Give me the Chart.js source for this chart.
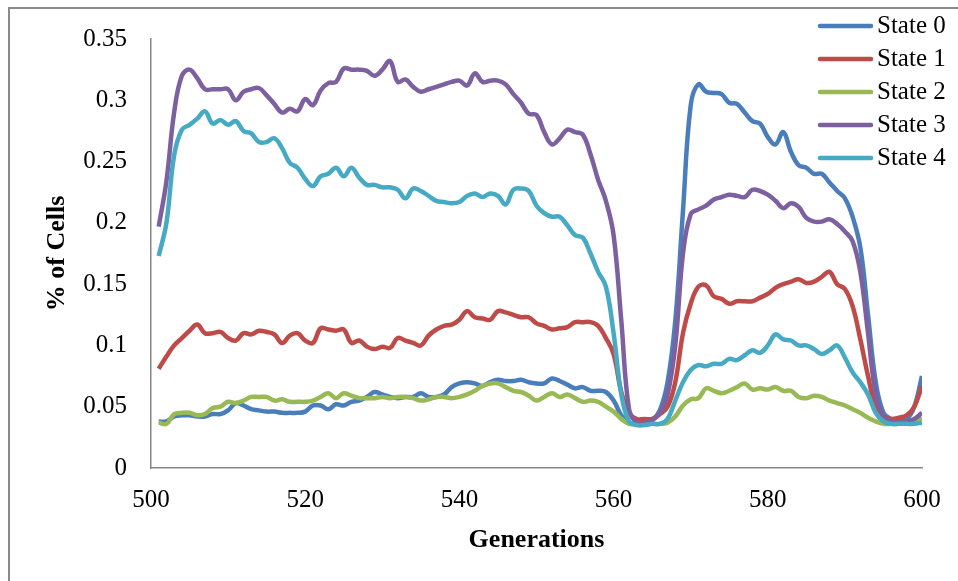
<!DOCTYPE html>
<html>
<head>
<meta charset="utf-8">
<title>% of Cells by Generation</title>
<script src="https://cdn.jsdelivr.net/npm/chart.js@4.4.1/dist/chart.umd.min.js"></script>
<style>
  html, body { margin: 0; padding: 0; background: #fff; }
  #chart { display: block; }
</style>
</head>
<body>
<canvas id="chart" width="958" height="581"></canvas>
<script>
const generations = [
  501, 502, 503, 504, 505, 506, 507, 508, 509, 510,
  511, 512, 513, 514, 515, 516, 517, 518, 519, 520,
  521, 522, 523, 524, 525, 526, 527, 528, 529, 530,
  531, 532, 533, 534, 535, 536, 537, 538, 539, 540,
  541, 542, 543, 544, 545, 546, 547, 548, 549, 550,
  551, 552, 553, 554, 555, 556, 557, 558, 559, 560,
  561, 562, 563, 564, 565, 566, 567, 568, 569, 570,
  571, 572, 573, 574, 575, 576, 577, 578, 579, 580,
  581, 582, 583, 584, 585, 586, 587, 588, 589, 590,
  591, 592, 593, 594, 595, 596, 597, 598, 599, 600,
];

const state0 = [
  0.038, 0.038, 0.042, 0.043, 0.043, 0.042, 0.042, 0.044, 0.044, 0.047,
  0.053, 0.051, 0.048, 0.047, 0.046, 0.046, 0.045, 0.045, 0.045, 0.046,
  0.051, 0.051, 0.048, 0.052, 0.051, 0.054, 0.055, 0.058, 0.062, 0.060,
  0.058, 0.057, 0.058, 0.058, 0.061, 0.058, 0.058, 0.060, 0.066, 0.069,
  0.070, 0.069, 0.067, 0.070, 0.072, 0.071, 0.071, 0.072, 0.070, 0.069,
  0.069, 0.073, 0.071, 0.068, 0.065, 0.066, 0.063, 0.063, 0.062, 0.055,
  0.043, 0.037, 0.036, 0.037, 0.039, 0.047, 0.070, 0.120, 0.210, 0.296,
  0.313, 0.307, 0.306, 0.305, 0.298, 0.297, 0.290, 0.283, 0.281, 0.270,
  0.264, 0.274, 0.258, 0.247, 0.245, 0.240, 0.240, 0.233, 0.226, 0.220,
  0.205, 0.180, 0.125, 0.070, 0.045, 0.040, 0.039, 0.040, 0.050, 0.075,
];

const state1 = [
  0.081, 0.091, 0.100, 0.106, 0.112, 0.117, 0.110, 0.110, 0.111, 0.106,
  0.104, 0.110, 0.109, 0.112, 0.111, 0.109, 0.102, 0.108, 0.110, 0.104,
  0.102, 0.114, 0.113, 0.112, 0.113, 0.102, 0.104, 0.099, 0.097, 0.099,
  0.098, 0.106, 0.104, 0.102, 0.100, 0.108, 0.113, 0.116, 0.117, 0.121,
  0.128, 0.123, 0.122, 0.121, 0.128, 0.127, 0.125, 0.123, 0.123, 0.118,
  0.116, 0.113, 0.114, 0.115, 0.119, 0.119, 0.119, 0.116, 0.106, 0.093,
  0.062, 0.045, 0.040, 0.040, 0.040, 0.044, 0.050, 0.070, 0.110, 0.134,
  0.148, 0.149, 0.140, 0.138, 0.134, 0.136, 0.136, 0.136, 0.139, 0.142,
  0.147, 0.150, 0.152, 0.154, 0.151, 0.152, 0.156, 0.160, 0.150, 0.146,
  0.132, 0.105, 0.075, 0.050, 0.042, 0.040, 0.041, 0.043, 0.050, 0.067,
];

const state2 = [
  0.037, 0.036, 0.044, 0.045, 0.045, 0.043, 0.044, 0.049, 0.050, 0.054,
  0.053, 0.055, 0.058, 0.058, 0.058, 0.055, 0.056, 0.054, 0.054, 0.054,
  0.055, 0.058, 0.061, 0.057, 0.061, 0.059, 0.057, 0.057, 0.057, 0.058,
  0.057, 0.058, 0.058, 0.057, 0.055, 0.056, 0.058, 0.058, 0.057, 0.058,
  0.060, 0.063, 0.067, 0.069, 0.069, 0.066, 0.063, 0.062, 0.059, 0.055,
  0.058, 0.061, 0.058, 0.060, 0.057, 0.054, 0.055, 0.054, 0.050, 0.046,
  0.040, 0.036, 0.036, 0.036, 0.036, 0.036, 0.037, 0.042, 0.051, 0.056,
  0.057, 0.065, 0.063, 0.061, 0.063, 0.066, 0.069, 0.064, 0.065, 0.064,
  0.066, 0.063, 0.063, 0.058, 0.057, 0.059, 0.058, 0.055, 0.053, 0.051,
  0.048, 0.045, 0.041, 0.038, 0.036, 0.036, 0.036, 0.037, 0.037, 0.041,
];

const state3 = [
  0.197, 0.234, 0.290, 0.320, 0.325, 0.318, 0.309, 0.309, 0.309, 0.309,
  0.300, 0.307, 0.309, 0.310, 0.304, 0.297, 0.290, 0.293, 0.291, 0.301,
  0.296, 0.308, 0.314, 0.315, 0.326, 0.325, 0.325, 0.324, 0.320, 0.325,
  0.332, 0.315, 0.317, 0.311, 0.307, 0.309, 0.311, 0.313, 0.315, 0.316,
  0.312, 0.322, 0.315, 0.316, 0.316, 0.313, 0.305, 0.298, 0.289, 0.288,
  0.274, 0.264, 0.269, 0.276, 0.274, 0.272, 0.256, 0.235, 0.218, 0.190,
  0.120, 0.048, 0.037, 0.037, 0.039, 0.045, 0.060, 0.100, 0.175, 0.207,
  0.211, 0.214, 0.219, 0.221, 0.223, 0.222, 0.221, 0.227, 0.226, 0.223,
  0.218, 0.212, 0.216, 0.213, 0.204, 0.201, 0.201, 0.203, 0.199, 0.193,
  0.185, 0.160, 0.110, 0.060, 0.042, 0.038, 0.037, 0.038, 0.040, 0.045,
];

const state4 = [
  0.173, 0.200, 0.255, 0.276, 0.280, 0.285, 0.291, 0.281, 0.284, 0.280,
  0.283, 0.275, 0.273, 0.266, 0.266, 0.269, 0.261, 0.249, 0.245, 0.236,
  0.230, 0.238, 0.240, 0.245, 0.238, 0.245, 0.237, 0.231, 0.231, 0.229,
  0.229, 0.227, 0.220, 0.228, 0.226, 0.222, 0.218, 0.217, 0.216, 0.217,
  0.222, 0.224, 0.221, 0.224, 0.222, 0.215, 0.227, 0.228, 0.226, 0.214,
  0.208, 0.205, 0.205, 0.198, 0.190, 0.188, 0.175, 0.160, 0.148, 0.110,
  0.060, 0.038, 0.035, 0.035, 0.036, 0.036, 0.040, 0.055, 0.070, 0.080,
  0.084, 0.083, 0.085, 0.085, 0.089, 0.088, 0.092, 0.096, 0.094, 0.100,
  0.109, 0.105, 0.104, 0.100, 0.100, 0.097, 0.093, 0.096, 0.100, 0.090,
  0.078, 0.070, 0.060, 0.045, 0.038, 0.036, 0.036, 0.036, 0.036, 0.037,
];

const seriesNames = ['State 0', 'State 1', 'State 2', 'State 3', 'State 4'];
const seriesColors = ['#4A7EBB', '#BE4B48', '#98B954', '#7D60A0', '#46AAC5'];
const seriesValues = [state0, state1, state2, state3, state4];

const xTicks = [500, 520, 540, 560, 580, 600];
const yTicks = [0, 0.05, 0.1, 0.15, 0.2, 0.25, 0.3, 0.35];

const SERIF = '"Liberation Serif", "Times New Roman", serif';

// outer frame of the chart area (left and top edges only are visible)
const framePlugin = {
  id: 'frame',
  beforeDraw(chart) {
    const { ctx } = chart;
    ctx.save();
    ctx.strokeStyle = '#8a8a8a';
    ctx.lineWidth = 2;
    ctx.beginPath();
    ctx.moveTo(9, chart.height);
    ctx.lineTo(9, 8);
    ctx.lineTo(chart.width, 8);
    ctx.stroke();
    ctx.restore();
  },
};

// legend sits over the top right corner, partly outside the plot area
const legendPlugin = {
  id: 'floatLegend',
  afterDraw(chart) {
    const { ctx } = chart;
    ctx.save();
    ctx.font = '25px ' + SERIF;
    ctx.textBaseline = 'middle';
    ctx.textAlign = 'left';
    chart.data.datasets.forEach((ds, i) => {
      const y = 26 + i * 33;
      ctx.strokeStyle = ds.borderColor;
      ctx.lineWidth = 4.5;
      ctx.lineCap = 'round';
      ctx.beginPath();
      ctx.moveTo(820, y);
      ctx.lineTo(871, y);
      ctx.stroke();
      ctx.fillStyle = '#000';
      ctx.fillText(ds.label, 877, y);
    });
    ctx.restore();
  },
};

const datasets = seriesNames.map((name, i) => ({
  label: name,
  data: generations.map((g, j) => ({ x: g, y: seriesValues[i][j] })),
  borderColor: seriesColors[i],
  backgroundColor: seriesColors[i],
  borderWidth: 4.5,
  pointRadius: 0,
  tension: 0.4,
  fill: false,
  order: seriesNames.length - i,
}));

new Chart(document.getElementById('chart'), {
  type: 'line',
  data: { datasets },
  plugins: [framePlugin, legendPlugin],
  options: {
    responsive: false,
    animation: false,
    devicePixelRatio: 1,
    layout: {
      padding: { left: 10, right: 36, top: 37, bottom: 0 },
    },
    plugins: {
      legend: { display: false },
      tooltip: { enabled: false },
    },
    scales: {
      x: {
        type: 'linear',
        min: 500,
        max: 600,
        afterFit(scale) { scale.height = 113; },
        afterBuildTicks(scale) { scale.ticks = xTicks.map((v) => ({ value: v })); },
        grid: { display: false, drawTicks: false },
        border: { display: true, color: '#868686', width: 1.5 },
        ticks: {
          autoSkip: false,
          maxRotation: 0,
          padding: 17,
          color: '#000',
          font: { family: SERIF, size: 25 },
        },
        title: {
          display: true,
          text: 'Generations',
          color: '#000',
          padding: { top: 0, bottom: 25 },
          font: { family: SERIF, size: 26, weight: 'bold' },
        },
      },
      y: {
        min: 0,
        max: 0.35,
        afterFit(scale) { scale.width = 141; },
        afterBuildTicks(scale) { scale.ticks = yTicks.map((v) => ({ value: v })); },
        grid: { display: false, drawTicks: false },
        border: { display: true, color: '#868686', width: 1.5 },
        ticks: {
          padding: 24,
          color: '#000',
          font: { family: SERIF, size: 25 },
          callback: (v) => String(Number(v.toFixed(2))),
        },
        title: {
          display: true,
          text: '% of Cells',
          color: '#000',
          padding: { top: 32, bottom: 0 },
          font: { family: SERIF, size: 26, weight: 'bold' },
        },
      },
    },
  },
});
</script>
</body>
</html>
